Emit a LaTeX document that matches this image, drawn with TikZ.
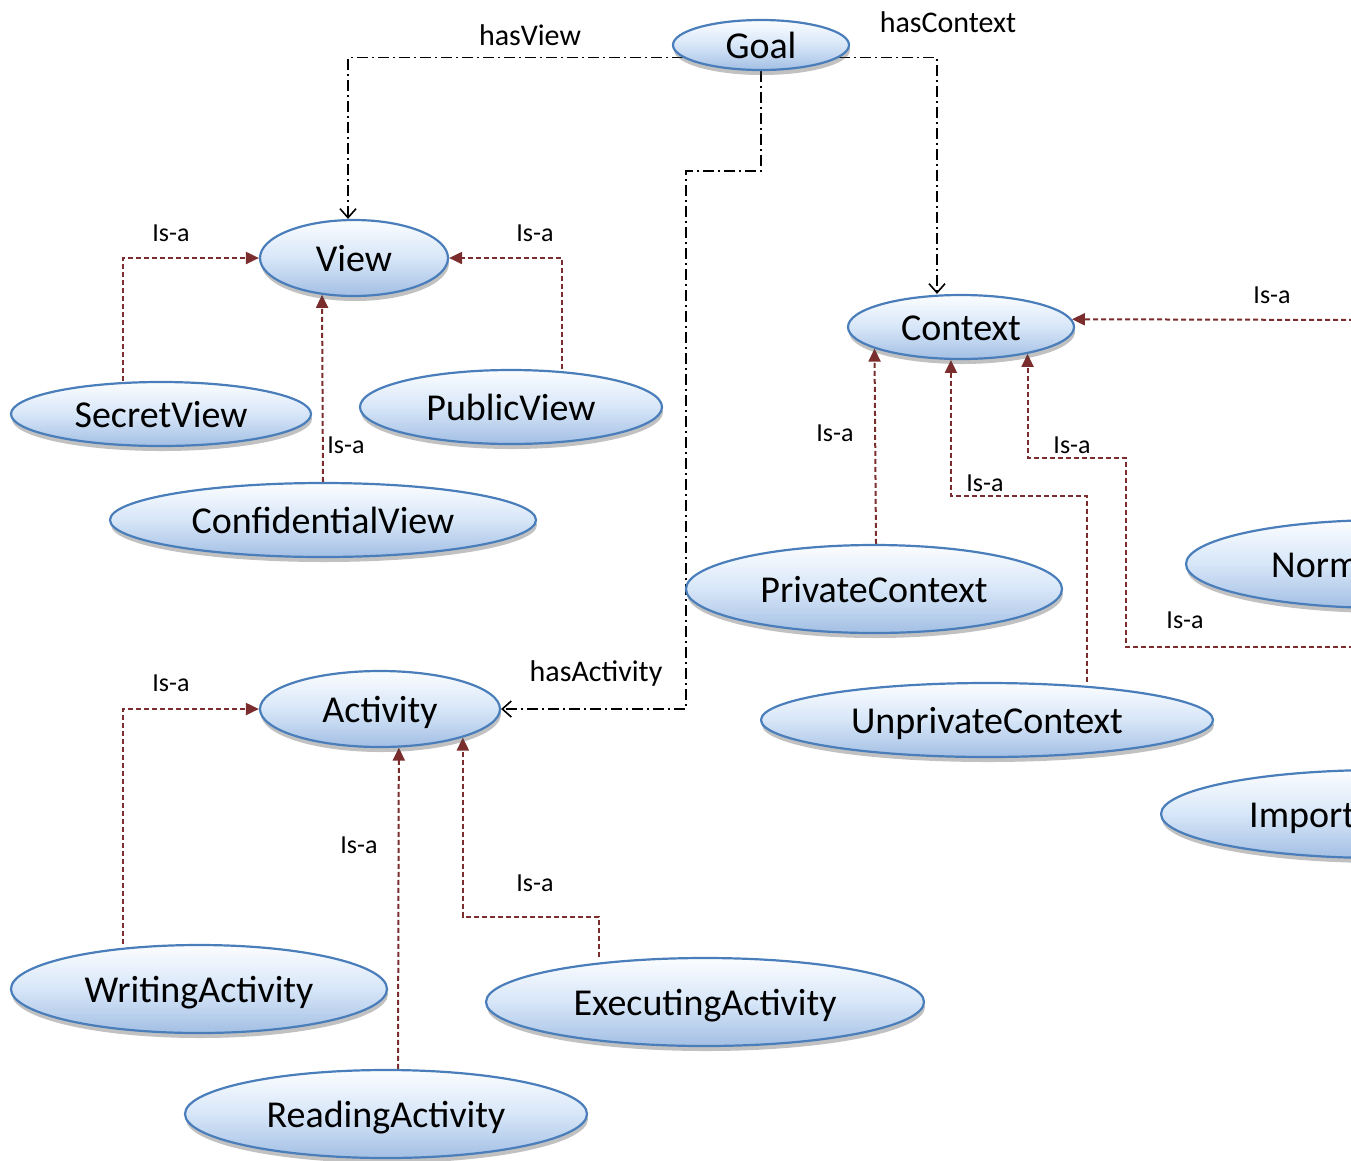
\documentclass[tikz,border=0pt]{standalone}
\usepackage{fontspec}
\setmainfont{Carlito}
\usetikzlibrary{shapes.geometric,arrows.meta,shadows,backgrounds}
\definecolor{rim}{HTML}{4A7EBB}
\definecolor{isared}{HTML}{7B2C2C}
\definecolor{ftop}{HTML}{FBFDFF}
\definecolor{fmid}{HTML}{D7E6F8}
\definecolor{fbot}{HTML}{A3BFE4}
\tikzset{
  onto/.style={ellipse, draw=rim, line width=2.2pt, top color=ftop, bottom color=fbot, middle color=fmid,
    inner sep=0pt, font=\fontsize{38}{44}\selectfont, text height=26pt, text depth=0pt,
    drop shadow={shadow xshift=1pt, shadow yshift=-5pt, opacity=0.35, fill=black!70}},
  ontotext/.style={inner sep=0pt, font=\fontsize{38}{44}\selectfont, text height=26pt, text depth=0pt},
  hasrel/.style={draw=black, line width=1.8pt, dash pattern=on 11pt off 4pt on 2pt off 4pt,
    -{Straight Barb[length=9pt,width=16pt,line width=1.6pt]}},
  isa/.style={draw=isared, line width=2pt, dash pattern=on 5pt off 3pt,
    -{Triangle[length=13pt,width=12pt]}},
  hlabel/.style={inner sep=0pt, font=\fontsize{30}{33}\selectfont},
  ilabel/.style={inner sep=0pt, font=\fontsize{26}{29}\selectfont}
}
\begin{document}
\begin{tikzpicture}[x=1pt,y=-1pt]
\useasboundingbox (0,0) rectangle (1351,1160);

% nodes
\node[onto, minimum width=176pt, minimum height=50pt] (goal) at (761,45) {Goal};
\node[onto, minimum width=188pt, minimum height=76pt] (view) at (354,258) {View};
\node[onto, minimum width=300pt, minimum height=64pt] (secretview) at (161,414) {SecretView};
\node[onto, minimum width=302pt, minimum height=74pt] (publicview) at (511,407) {PublicView};
\node[onto, minimum width=426pt, minimum height=74pt] (confidentialview) at (323,520) {ConfidentialView};
\node[onto, minimum width=226pt, minimum height=64pt] (context) at (961,327) {Context};
\node[onto, minimum width=376pt, minimum height=88pt] (privatecontext) at (874,589) {PrivateContext};
\node[onto, minimum width=452pt, minimum height=74pt] (unprivatecontext) at (987,720) {UnprivateContext};
\node[onto, minimum width=400pt, minimum height=88pt] (norm) at (1386,564) {};
\node[ontotext, anchor=west] (normtext) at (1271,564) {Norm};
\node[onto, minimum width=440pt, minimum height=88pt] (import) at (1381,814) {};
\node[ontotext, anchor=west] (importtext) at (1249,814) {Import};
\node[onto, minimum width=240pt, minimum height=76pt] (activity) at (380,709) {Activity};
\node[onto, minimum width=376pt, minimum height=88pt] (writingactivity) at (199,989) {WritingActivity};
\node[onto, minimum width=438pt, minimum height=88pt] (executingactivity) at (705,1002) {ExecutingActivity};
\node[onto, minimum width=402pt, minimum height=88pt] (readingactivity) at (386,1114) {ReadingActivity};

\coordinate (isaR) at (1362,320);
\coordinate (isaN) at (1362,647);

% labels
\node[hlabel] (lview) at (530,35) {hasView};
\node[hlabel] (lcontext) at (948,22) {hasContext};
\node[hlabel] (lactivity) at (596,673) {hasActivity};
\node[ilabel] (l1) at (171,233) {Is-a};
\node[ilabel] (l2) at (535,233) {Is-a};
\node[ilabel] (l3) at (346,445) {Is-a};
\node[ilabel] (l4) at (1272,295) {Is-a};
\node[ilabel] (l5) at (835,433) {Is-a};
\node[ilabel] (l6) at (985,483) {Is-a};
\node[ilabel] (l7) at (1072,445) {Is-a};
\node[ilabel] (l8) at (1185,620) {Is-a};
\node[ilabel] (l9) at (171,683) {Is-a};
\node[ilabel] (l10) at (359,845) {Is-a};
\node[ilabel] (l11) at (535,883) {Is-a};

\begin{pgfonlayer}{background}
% has-relations
\draw[hasrel] (goal.-171) -| ([xshift=-6pt]view.north);
\draw[hasrel] (goal.-9) -| ([xshift=-24pt]context.north);
\draw[hasrel] (goal.south) -- ++(0,100) -- ++(-75,0) |- (activity.east);
% is-a relations
\draw[isa] ([xshift=-38pt]secretview.north) |- (view.west);
\draw[isa] ([xshift=51pt]publicview.north) |- (view.east);
\draw[isa] (confidentialview.north) -- (view.-131);
\draw[isa] (isaR) -- (context.4);
\draw[isa] ([xshift=2pt]privatecontext.north) -- (context.-166);
\draw[isa] ([xshift=100pt]unprivatecontext.north) -- ++(0,-186) -| (context.-107);
\draw[isa] (isaN) -- ++(-236,0) -- ++(0,-189) -| (context.-22);
\draw[isa] ([xshift=-76pt]writingactivity.north) |- (activity.west);
\draw[isa] ([xshift=12pt]readingactivity.north) -- (activity.-64);
\draw[isa] ([xshift=-106pt]executingactivity.north) -- ++(0,-40) -| (activity.-19);
\end{pgfonlayer}
\end{tikzpicture}
\end{document}
